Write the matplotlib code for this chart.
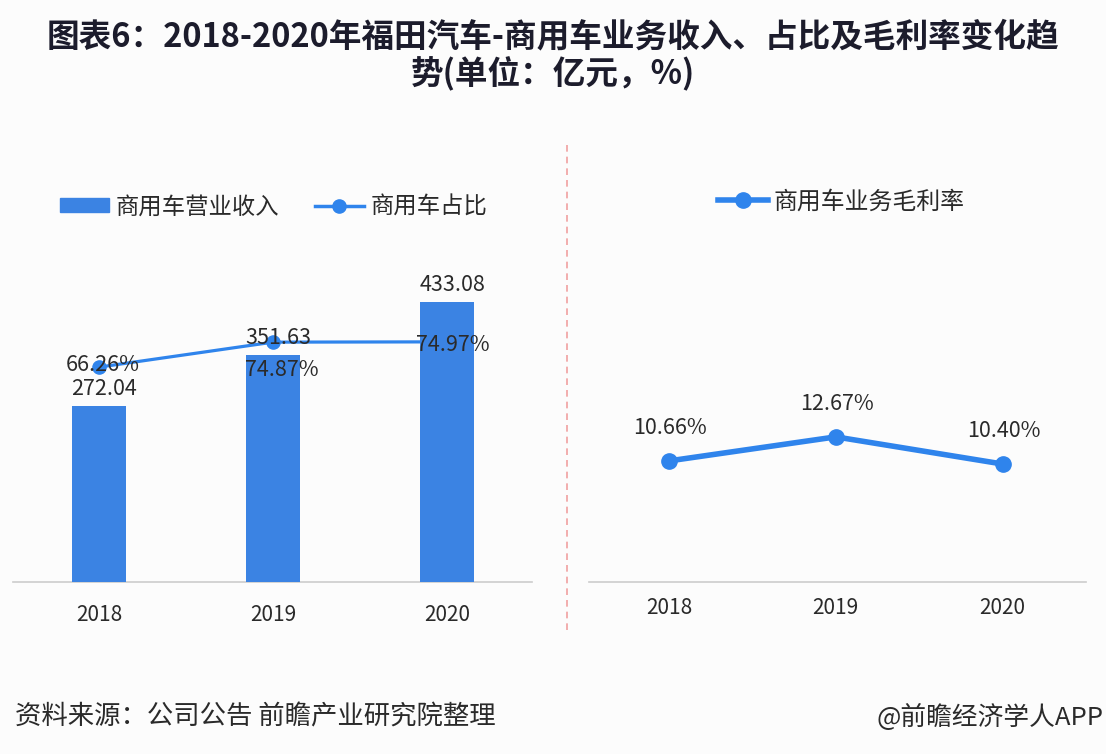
import numpy as np
import matplotlib.pyplot as plt
from matplotlib.lines import Line2D
from matplotlib.patches import Patch

plt.rcParams['font.family'] = ['Noto Sans CJK SC', 'DejaVu Sans']

# Data
years = ['2018', '2019', '2020']
revenue = [272.04, 351.63, 433.08]        # 商用车营业收入 (亿元)
share = [66.26, 74.87, 74.97]             # 商用车占比 (%)
gross_margin = [10.66, 12.67, 10.40]      # 商用车业务毛利率 (%)

bar_color = '#3b83e3'
line_color = '#2f84ec'
text_color = '#2a2a2a'
bg = '#fcfcfc'

fig = plt.figure(figsize=(11.06, 7.54), dpi=100, facecolor=bg)

x = np.arange(len(years))

# left panel: bars + share line
ax = fig.add_axes([0.0118, 0.2281, 0.4693, 0.4403])
ax2 = ax.twinx()
ax.bar(x, revenue, width=0.31, color=bar_color, zorder=3)
ax2.plot(x, share, color=line_color, lw=2.3, marker='o', ms=9.5, zorder=2)
ax.set_zorder(ax2.get_zorder() + 1)
ax.patch.set_visible(False)
ax.set_ylim(0, 513.5)
ax2.set_ylim(-7.76, 106.6)
ax.set_xlim(-0.493, 2.487)

for xi, v in zip(x, revenue):
    ax.annotate(f'{v:.2f}', (xi, v), xytext=(5, 17), textcoords='offset pixels',
                ha='center', va='center', fontsize=15.5, color=text_color, zorder=5)

# percent labels sit on the share line, drawn on top of the bars
pct_offsets = [(4, 2), (9, -28), (6, -3)]
for xi, v, off in zip(x, share, pct_offsets):
    ax.annotate(f'{v:.2f}%', (xi, v), xycoords=ax2.transData, xytext=off,
                textcoords='offset pixels', ha='center', va='center',
                fontsize=15.5, color=text_color, zorder=10, annotation_clip=False)

# right panel: gross margin line
axr = fig.add_axes([0.5325, 0.2281, 0.4494, 0.4403])
axr.plot(x, gross_margin, color=line_color, lw=4, marker='o', ms=11,
         solid_capstyle='round')
axr.set_ylim(0.53, 28.3)
axr.set_xlim(-0.48, 2.5)
for xi, v in zip(x, gross_margin):
    axr.annotate(f'{v:.2f}%', (xi, v), xytext=(1, 33), textcoords='offset pixels',
                 ha='center', va='center', fontsize=15.5, color=text_color)

for a in (ax, ax2, axr):
    for s in ('top', 'left', 'right'):
        a.spines[s].set_visible(False)
    a.set_yticks([])
    a.patch.set_visible(False)
ax2.spines['bottom'].set_visible(False)
for a, pad in ((ax, 16), (axr, 11)):
    a.spines['bottom'].set_color('#cccccc')
    a.spines['bottom'].set_linewidth(1.2)
    a.set_xticks(x)
    a.set_xticklabels(years)
    a.tick_params(axis='x', length=0, pad=pad, labelsize=15, labelcolor=text_color)

# legends
h_bar = Patch(color=bar_color)
h_line = Line2D([], [], color=line_color, lw=2.5, marker='o', ms=9.5)
fig.legend([h_bar, h_line], ['商用车营业收入', '商用车占比'], ncol=2,
           loc='center left', bbox_to_anchor=(0.0542, 0.7255), frameon=False,
           fontsize=16.8, borderpad=0, borderaxespad=0, handlelength=2.1,
           handleheight=0.55, handletextpad=0.3, columnspacing=1.5,
           labelcolor=text_color)
h_line2 = Line2D([], [], color=line_color, lw=4, marker='o', ms=11)
fig.legend([h_line2], ['商用车业务毛利率'], loc='center left',
           bbox_to_anchor=(0.649, 0.732), frameon=False, fontsize=17.2,
           borderpad=0, borderaxespad=0, handlelength=2.1, handletextpad=0.25,
           labelcolor=text_color)

# divider
fig.add_artist(Line2D([567 / 1106, 567 / 1106], [1 - 145 / 754, 1 - 630 / 754],
                      transform=fig.transFigure, color='#f0a0a0', lw=1.2,
                      linestyle=(0, (4, 3))))

# title and footer
fig.text(0.5, 1 - 56 / 754,
         '图表6：2018-2020年福田汽车-商用车业务收入、占比及毛利率变化趋\n势(单位：亿元，%)',
         ha='center', va='center', fontsize=23.5, fontweight='bold',
         color='#1c1c2c', linespacing=1.12)
fig.text(15 / 1106, 1 - 717 / 754, '资料来源：公司公告 前瞻产业研究院整理',
         ha='left', va='center', fontsize=19, color=text_color)
fig.text(1104 / 1106, 1 - 717 / 754, '@前瞻经济学人APP',
         ha='right', va='center', fontsize=18.5, color=text_color)

fig.savefig('out.png', dpi=100, facecolor=bg)
